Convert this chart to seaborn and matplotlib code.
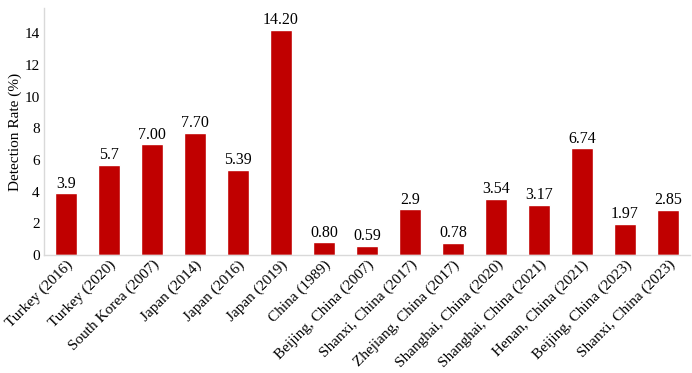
import matplotlib
matplotlib.use("Agg")
import matplotlib.pyplot as plt
import seaborn as sns
import pandas as pd

categories = ["Turkey (2016)", "Turkey (2020)", "South Korea (2007)", "Japan (2014)",
              "Japan (2016)", "Japan (2019)", "China (1989)", "Beijing, China (2007)",
              "Shanxi, China (2017)", "Zhejiang, China (2017)", "Shanghai, China (2020)",
              "Shanghai, China (2021)", "Henan, China (2021)", "Beijing, China (2023)",
              "Shanxi, China (2023)"]
values = [3.9, 5.7, 7.00, 7.70, 5.39, 14.20, 0.80, 0.59, 2.9, 0.78, 3.54, 3.17, 6.74, 1.97, 2.85]
value_labels = ["3.9", "5.7", "7.00", "7.70", "5.39", "14.20", "0.80", "0.59", "2.9",
                "0.78", "3.54", "3.17", "6.74", "1.97", "2.85"]

sns.set_theme(style="white")
plt.rcParams['font.family'] = ['Liberation Serif', 'DejaVu Serif']

df = pd.DataFrame({"cat": categories, "val": values})

fig = plt.figure(figsize=(6.92, 3.73), dpi=100)
ax = fig.add_axes([0.0636, 0.316, 0.9334, 0.663])
sns.barplot(data=df, x="cat", y="val", color="#C00000", saturation=1, width=0.51, ax=ax)

for i, (v, lab) in enumerate(zip(values, value_labels)):
    ax.text(i, v + 0.1, lab, ha="center", va="bottom", fontsize=11.5, color="black")

ax.set_xlim(-0.51, 14.51)
ax.set_ylim(0, 15.6)
ax.set_yticks(range(0, 15, 2))
ax.set_xlabel("")
ax.set_ylabel("Detection Rate (%)", fontsize=11, color="black", labelpad=2)
ax.tick_params(axis="y", labelsize=11, length=0, pad=3, colors="black")
ax.tick_params(axis="x", labelsize=11, length=0, pad=2, colors="black")
plt.setp(ax.get_xticklabels(), rotation=45, ha="right", rotation_mode="anchor")
for s in ["top", "right"]:
    ax.spines[s].set_visible(False)
for s in ["left", "bottom"]:
    ax.spines[s].set_color("#d9d9d9")
    ax.spines[s].set_linewidth(1.0)

fig.savefig("out.png", dpi=100)
